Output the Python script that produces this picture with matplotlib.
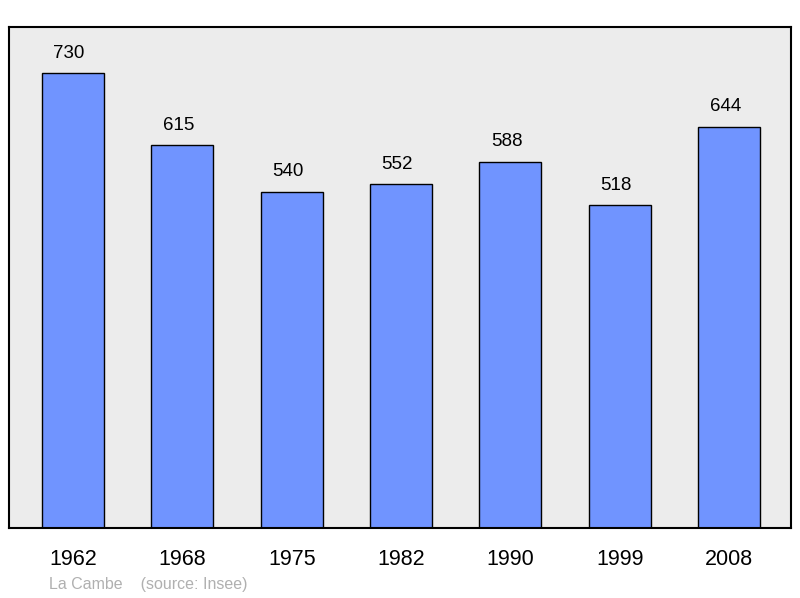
import matplotlib
matplotlib.use("Agg")
import matplotlib.pyplot as plt

years = ["1962", "1968", "1975", "1982", "1990", "1999", "2008"]
values = [730, 615, 540, 552, 588, 518, 644]

plt.rcParams['font.family'] = ['Liberation Sans', 'DejaVu Sans']
fig = plt.figure(figsize=(8, 5.98), dpi=100)
ax = fig.add_axes([9/800, 70/598, 782/800, 501/598])
ax.set_facecolor('#ececec')
x = range(len(years))
ax.bar(x, values, width=0.567, color='#7094ff', edgecolor='black', linewidth=1)
for xi, v in zip(x, values):
    ax.text(xi - 0.035, v + 18, str(v), ha='center', va='bottom', fontsize=13.5)
ax.set_xlim(-0.585, 6.565)
ax.set_ylim(0, 804)
ax.set_xticks(list(x))
ax.set_xticklabels(years, fontsize=15.5)
for lbl in ax.get_xticklabels():
    pass
ax.tick_params(axis='x', length=0, pad=15)
ax.set_yticks([])
for s in ax.spines.values():
    s.set_linewidth(1.5)
fig.text(49/800, 1 - 584/598, "La Cambe    (source: Insee)", fontsize=11.5, color='#b0b0b0', va='center')
fig.savefig("out.png")
